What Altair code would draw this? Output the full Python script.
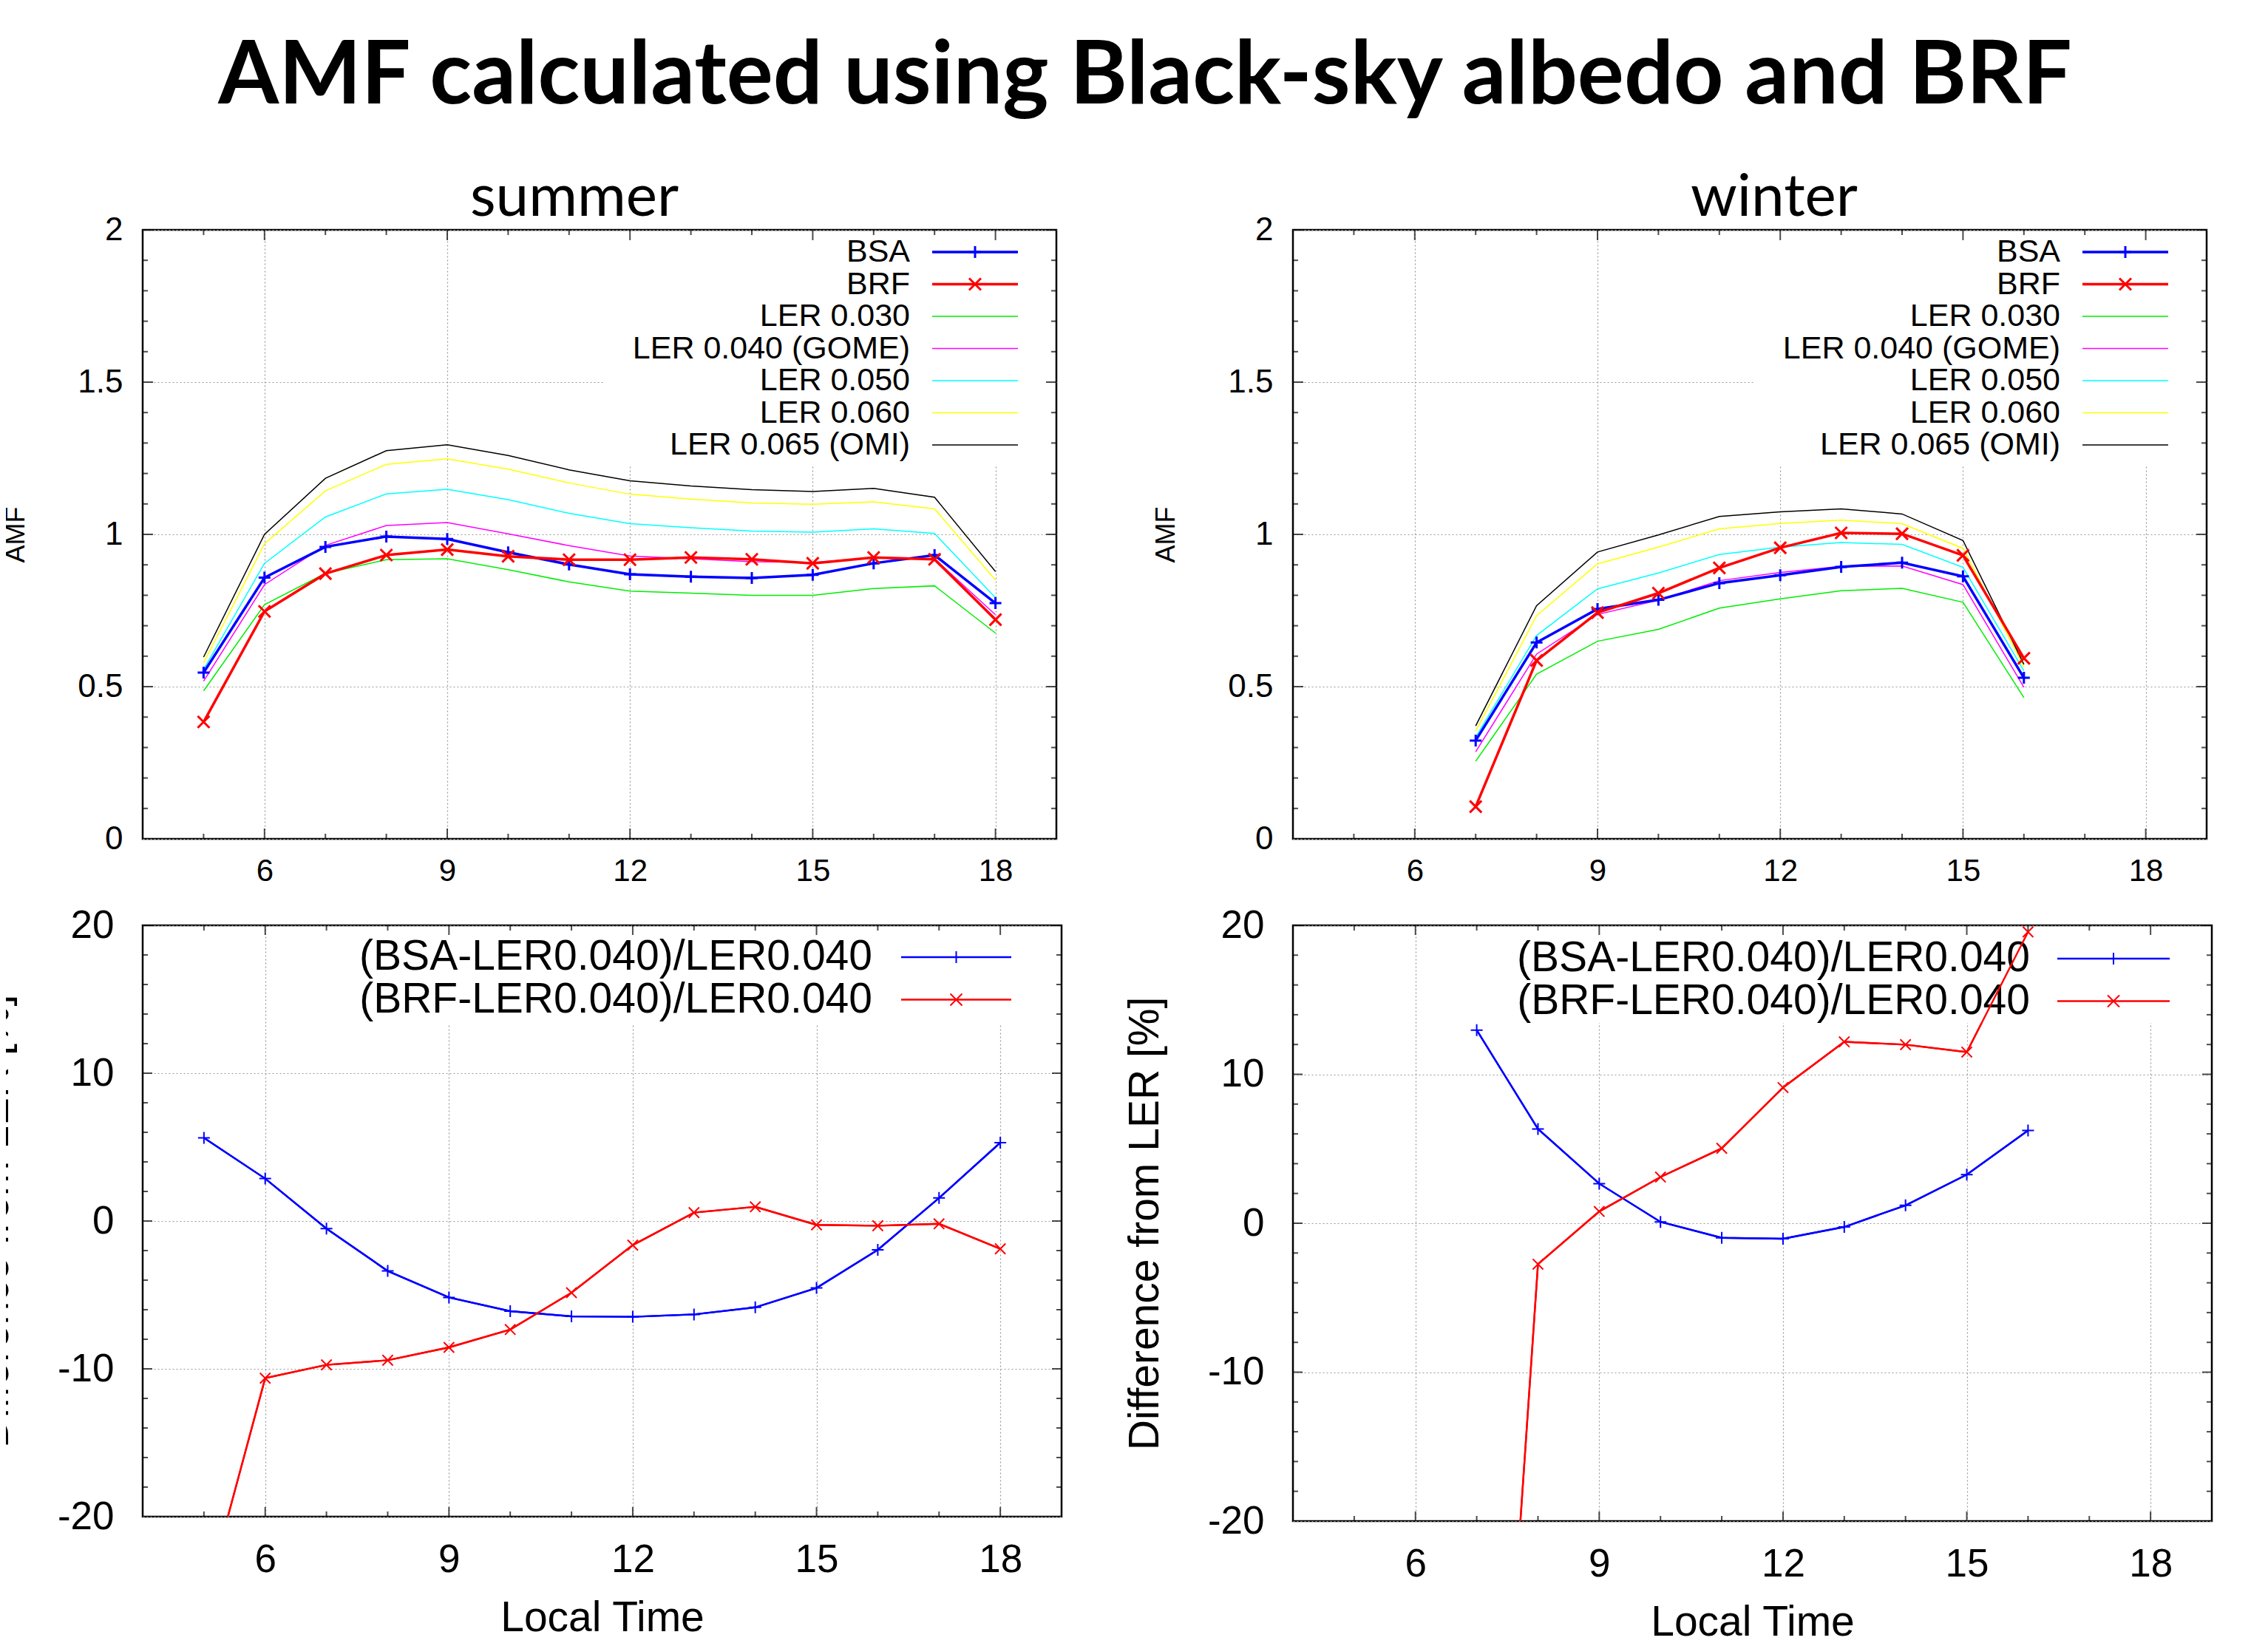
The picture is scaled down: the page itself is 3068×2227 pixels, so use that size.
import altair as alt
import pandas as pd

# ---------------- data ----------------
SUMMER_HOURS = [5, 6, 7, 8, 9, 10, 11, 12, 13, 14, 15, 16, 17, 18]
S_BSA = [0.546, 0.858, 0.959, 0.993, 0.985, 0.941, 0.901, 0.869, 0.861, 0.857, 0.867, 0.905, 0.932, 0.774]
S_BRF = [0.384, 0.747, 0.871, 0.932, 0.950, 0.928, 0.917, 0.917, 0.924, 0.918, 0.905, 0.924, 0.918, 0.720]
S_L030 = [0.486, 0.769, 0.872, 0.917, 0.920, 0.884, 0.844, 0.814, 0.807, 0.800, 0.800, 0.822, 0.831, 0.676]
S_L040 = [0.518, 0.835, 0.964, 1.029, 1.039, 1.002, 0.963, 0.929, 0.920, 0.910, 0.908, 0.923, 0.920, 0.736]
S_L050 = [0.556, 0.905, 1.057, 1.133, 1.148, 1.114, 1.069, 1.035, 1.022, 1.011, 1.007, 1.018, 1.003, 0.792]
S_L060 = [0.578, 0.969, 1.143, 1.230, 1.248, 1.214, 1.169, 1.132, 1.116, 1.103, 1.099, 1.107, 1.084, 0.850]
S_L065 = [0.597, 1.000, 1.184, 1.275, 1.294, 1.259, 1.212, 1.176, 1.159, 1.147, 1.141, 1.151, 1.122, 0.878]

WINTER_HOURS = [7, 8, 9, 10, 11, 12, 13, 14, 15, 16]
W_BSA = [0.323, 0.645, 0.755, 0.785, 0.840, 0.866, 0.893, 0.907, 0.862, 0.529]
W_BRF = [0.106, 0.586, 0.743, 0.807, 0.890, 0.956, 1.005, 1.002, 0.931, 0.593]
W_L030 = [0.255, 0.541, 0.649, 0.688, 0.758, 0.788, 0.815, 0.823, 0.777, 0.464]
W_L040 = [0.286, 0.607, 0.737, 0.784, 0.848, 0.875, 0.895, 0.896, 0.835, 0.498]
W_L050 = [0.334, 0.668, 0.821, 0.873, 0.934, 0.958, 0.973, 0.967, 0.892, 0.552]
W_L060 = [0.354, 0.733, 0.903, 0.958, 1.018, 1.036, 1.047, 1.035, 0.954, 0.566]
W_L065 = [0.371, 0.766, 0.942, 0.998, 1.059, 1.074, 1.084, 1.067, 0.980, 0.573]

SD_BSA = [5.62, 2.87, -0.51, -3.38, -5.17, -6.10, -6.45, -6.48, -6.32, -5.84, -4.53, -1.95, 1.56, 5.30]
SD_BRF = [-26.0, -10.63, -9.73, -9.42, -8.55, -7.34, -4.85, -1.63, 0.57, 0.96, -0.26, -0.32, -0.19, -1.88]
WD_BSA = [12.97, 6.33, 2.66, 0.09, -0.98, -1.04, -0.25, 1.20, 3.26, 6.23]
WD_BRF = [-62.9, -2.75, 0.79, 3.10, 5.03, 9.11, 12.18, 11.99, 11.49, 19.56]

SERIES = ["BSA", "BRF", "LER 0.030", "LER 0.040 (GOME)", "LER 0.050", "LER 0.060", "LER 0.065 (OMI)"]
COLORS = ["#0000ff", "#ff0000", "#00ee00", "#ff00ff", "#00ffff", "#ffff00", "#000000"]
WIDTHS = [3.5, 3.5, 1.5, 1.5, 1.5, 1.5, 1.5]
DIFF_SERIES = ["(BSA-LER0.040)/LER0.040", "(BRF-LER0.040)/LER0.040"]
DIFF_COLORS = ["#0000ff", "#ff0000"]

X_TICKS = [6, 9, 12, 15, 18]
X_MINOR = [5, 7, 8, 10, 11, 13, 14, 16, 17]
AMF_TICKS = [0, 0.5, 1, 1.5, 2]
AMF_MINOR = [0.1, 0.2, 0.3, 0.4, 0.6, 0.7, 0.8, 0.9, 1.1, 1.2, 1.3, 1.4, 1.6, 1.7, 1.8, 1.9]
DIFF_TICKS = [-20, -10, 0, 10, 20]
DIFF_MINOR = [-18, -16, -14, -12, -8, -6, -4, -2, 2, 4, 6, 8, 12, 14, 16, 18]

FONT = "Liberation Sans"
PLUS = "M-1,0H1M0,-1V1"
CROSS = "M-1,-1L1,1M-1,1L1,-1"
LABEL_EXPR = "'' + datum.value"


def frame_ticks(xs, ys, xaxis, yaxis, ymaj, ymin, W, H, major, minor):
    """Inward gnuplot-style ticks on all four sides of the frame."""
    layers = []
    for vals, ln in ((X_TICKS, major), (X_MINOR, minor)):
        d = pd.DataFrame({"v": vals})
        for yy in (0, H):
            layers.append(
                alt.Chart(d).mark_tick(orient="vertical", size=2 * ln, thickness=2,
                                       color="black", clip=True)
                .encode(x=alt.X("v:Q", scale=xs, axis=xaxis), y=alt.value(yy)))
    for vals, ln in ((ymaj, major), (ymin, minor)):
        d = pd.DataFrame({"v": vals})
        for xx in (0, W):
            layers.append(
                alt.Chart(d).mark_tick(orient="horizontal", size=2 * ln, thickness=2,
                                       color="black", clip=True)
                .encode(y=alt.Y("v:Q", scale=ys, axis=yaxis), x=alt.value(xx)))
    return layers


def key_layers(labels, colors, widths, markers, marker_sw, font_size,
               label_right, line_x1, line_x2, row_y0, row_dy):
    """gnuplot-like key: right-aligned text followed by a line sample."""
    layers = []
    mid = (line_x1 + line_x2) / 2
    for i, (lab, col, lw, mk) in enumerate(zip(labels, colors, widths, markers)):
        y = row_y0 + i * row_dy
        one = pd.DataFrame({"label": [lab]})
        layers.append(alt.Chart(one).mark_text(
            align="right", baseline="middle", font=FONT, fontSize=font_size, color="black"
        ).encode(text="label:N", x=alt.value(label_right), y=alt.value(y)))
        layers.append(alt.Chart(one).mark_rule(color=col, strokeWidth=lw).encode(
            x=alt.value(line_x1), x2=alt.value(line_x2), y=alt.value(y)))
        if mk:
            layers.append(alt.Chart(one).mark_point(
                shape=mk, filled=False, size=256, strokeWidth=marker_sw, color=col, opacity=1
            ).encode(x=alt.value(mid), y=alt.value(y)))
    return layers


def blank(x1, x2, y1, y2):
    one = pd.DataFrame({"k": [0]})
    return alt.Chart(one).mark_rect(color="white").encode(
        x=alt.value(x1), x2=alt.value(x2), y=alt.value(y1), y2=alt.value(y2))


def amf_panel(hours, values, title, dx, W, H):
    rows = []
    for name, vals in zip(SERIES, values):
        for h, v in zip(hours, vals):
            rows.append({"hour": h, "amf": v, "series": name})
    df = pd.DataFrame(rows)
    xs = alt.Scale(domain=[4, 19], nice=False, zero=False)
    ys = alt.Scale(domain=[0, 2], nice=False, zero=False)
    xaxis = alt.Axis(values=X_TICKS, title=None, labelFontSize=42, labelFont=FONT,
                     labelPadding=23, grid=True, ticks=False, domain=False, labelFlush=False,
                     labelColor="black", labelExpr=LABEL_EXPR)
    yaxis = alt.Axis(values=AMF_TICKS, labelExpr=LABEL_EXPR, title="AMF", titleFont=FONT,
                     titleFontSize=36, titleFontWeight="normal", titleAngle=270, titleX=-161,
                     titleY=H / 2, titleBaseline="alphabetic", titleAlign="center",
                     titleColor="black", labelFontSize=44, labelFont=FONT, labelPadding=27,
                     grid=True, ticks=False, domain=False, labelFlush=False, labelColor="black")
    X = alt.X("hour:Q", scale=xs, axis=xaxis)
    Y = alt.Y("amf:Q", scale=ys, axis=yaxis)
    S = alt.Stroke("series:N", scale=alt.Scale(domain=SERIES, range=COLORS), legend=None)
    base = alt.Chart(df)
    ler = base.transform_filter(
        alt.FieldOneOfPredicate(field="series", oneOf=SERIES[2:])
    ).mark_line(strokeWidth=1.5, clip=True).encode(x=X, y=Y, stroke=S)
    main = base.transform_filter(
        alt.FieldOneOfPredicate(field="series", oneOf=SERIES[:2])
    ).mark_line(strokeWidth=3.5, clip=True).encode(x=X, y=Y, stroke=S)
    pb = base.transform_filter(alt.datum.series == "BSA").mark_point(
        shape=PLUS, filled=False, size=256, strokeWidth=3, opacity=1, clip=True
    ).encode(x=X, y=Y, stroke=S)
    px = base.transform_filter(alt.datum.series == "BRF").mark_point(
        shape=CROSS, filled=False, size=256, strokeWidth=3, opacity=1, clip=True
    ).encode(x=X, y=Y, stroke=S)
    key = key_layers(SERIES, COLORS, WIDTHS, [PLUS, CROSS, None, None, None, None, None], 3,
                     43, 1038, 1068, 1184, 30, 43.5)
    ticks = frame_ticks(xs, ys, xaxis, yaxis, AMF_TICKS, AMF_MINOR, W, H, 14, 7)
    return alt.layer(ler, blank(624, W - 2, 2, 318), *key, main, pb, px, *ticks).properties(
        width=W, height=H,
        title=alt.Title(title, font="Lato", fontSize=80, fontWeight="normal", color="black",
                        anchor="middle", frame="group", dx=dx, offset=-83, baseline="alphabetic"))


def diff_panel(hours, bsa, brf, W, H, label_right, line_x1, line_x2, row_y0, blank_x, blank_y):
    rows = []
    for name, vals in zip(DIFF_SERIES, (bsa, brf)):
        for h, v in zip(hours, vals):
            rows.append({"hour": h, "diff": v, "series": name})
    df = pd.DataFrame(rows)
    xs = alt.Scale(domain=[4, 19], nice=False, zero=False)
    ys = alt.Scale(domain=[-20, 20], nice=False, zero=False)
    xaxis = alt.Axis(values=X_TICKS, labelExpr=LABEL_EXPR, title="Local Time", titleFont=FONT,
                     titleFontSize=57, titleFontWeight="normal", titleY=154, titleX=W / 2,
                     titleBaseline="alphabetic", titleAlign="center", titleColor="black",
                     labelFontSize=53, labelFont=FONT, labelPadding=32, grid=True, ticks=False,
                     domain=False, labelFlush=False, labelColor="black")
    yaxis = alt.Axis(values=DIFF_TICKS, labelExpr=LABEL_EXPR, title="Difference from LER [%]",
                     titleFont=FONT, titleFontSize=57, titleFontWeight="normal", titleAngle=270,
                     titleX=-183, titleY=H / 2, titleBaseline="alphabetic", titleAlign="center",
                     titleColor="black", labelFontSize=53, labelFont=FONT, labelPadding=39,
                     grid=True, ticks=False, domain=False, labelFlush=False, labelColor="black")
    X = alt.X("hour:Q", scale=xs, axis=xaxis)
    Y = alt.Y("diff:Q", scale=ys, axis=yaxis)
    S = alt.Stroke("series:N", scale=alt.Scale(domain=DIFF_SERIES, range=DIFF_COLORS), legend=None)
    base = alt.Chart(df)
    lines = base.mark_line(strokeWidth=2.4, clip=True).encode(x=X, y=Y, stroke=S)
    pb = base.transform_filter(alt.datum.series == DIFF_SERIES[0]).mark_point(
        shape=PLUS, filled=False, size=256, strokeWidth=2, opacity=1, clip=True
    ).encode(x=X, y=Y, stroke=S)
    px = base.transform_filter(alt.datum.series == DIFF_SERIES[1]).mark_point(
        shape=CROSS, filled=False, size=200, strokeWidth=2, opacity=1, clip=True
    ).encode(x=X, y=Y, stroke=S)
    key = key_layers(DIFF_SERIES, DIFF_COLORS, [2.4, 2.4], [PLUS, CROSS], 2, 57,
                     label_right, line_x1, line_x2, row_y0, 57.5)
    ticks = frame_ticks(xs, ys, xaxis, yaxis, DIFF_TICKS, DIFF_MINOR, W, H, 13, 7)
    return alt.layer(lines, blank(blank_x, W - 2, 2, blank_y), *key, lines, pb, px, *ticks
                     ).properties(width=W, height=H)


tl = amf_panel(SUMMER_HOURS, [S_BSA, S_BRF, S_L030, S_L040, S_L050, S_L060, S_L065],
               "summer", -34, 1236, 824)
tr = amf_panel(WINTER_HOURS, [W_BSA, W_BRF, W_L030, W_L040, W_L050, W_L060, W_L065],
               "winter", 33, 1236, 824)
bl = diff_panel(SUMMER_HOURS, SD_BSA, SD_BRF, 1243, 800, 987, 1026, 1175, 43, 270, 134)
br = diff_panel(WINTER_HOURS, WD_BSA, WD_BRF, 1243, 806, 997, 1034, 1186, 45, 280, 132)

chart = alt.concat(
    tl, tr, bl, br, columns=2, spacing={"row": 117, "column": 313}, bounds="flush"
).resolve_scale(x="independent", y="independent", stroke="independent").properties(
    title=alt.Title("AMF calculated using Black-sky albedo and BRF", font="Lato", fontSize=118,
                    fontWeight="bold", color="black", anchor="middle", dx=71,
                    offset=-31, baseline="alphabetic"),
    padding={"left": -46, "top": 37, "right": 0, "bottom": 0},
    background="white",
).configure_view(stroke="black", strokeWidth=2.5).configure_axis(
    gridColor="#999999", gridDash=[2, 3], gridWidth=1.2, gridOpacity=1
)

chart.save("out.html", embed_options={"renderer": "svg", "actions": False})
